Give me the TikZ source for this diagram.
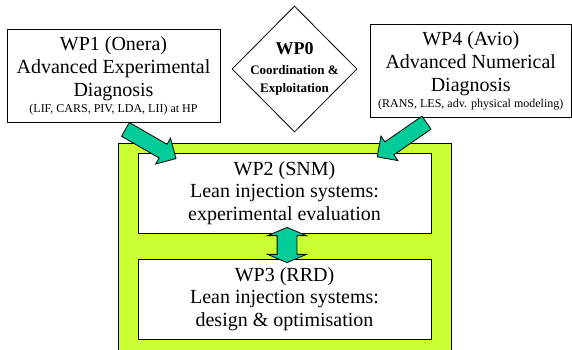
\documentclass[tikz,border=0pt]{standalone}
\usepackage{fontspec}
\setmainfont{Liberation Serif}
\usetikzlibrary{shapes.geometric,shapes.arrows,calc}

\definecolor{wplime}{HTML}{CCFF33}
\definecolor{wpteal}{HTML}{00CC99}

\begin{document}
\begin{tikzpicture}[x=1pt,y=-1pt,line width=0.8pt,
    wpbox/.style={draw,fill=white,align=center,inner sep=0pt,font=\fontsize{20}{23}\selectfont},
    flow/.style={single arrow,draw,fill=wpteal,inner xsep=0pt,inner ysep=7.5pt,single arrow head extend=7pt},
    link/.style={double arrow,draw,fill=wpteal,inner xsep=0pt,inner ysep=9.5pt,double arrow head extend=9.5pt,double arrow tip angle=134}]
  \useasboundingbox (0,0) rectangle (572,349);

  % frame round the two lean injection work packages
  \draw[fill=wplime] (118,143) rectangle (451,352);

  \node[wpbox,font=\fontsize{20}{22.5}\selectfont,minimum width=293pt,minimum height=80pt] (wp2) at (284.5,193)
    {WP2 (SNM)\\Lean injection systems:\\experimental evaluation};
  \node[wpbox,font=\fontsize{20}{22.5}\selectfont,minimum width=293pt,minimum height=80pt] (wp3) at (284.5,299)
    {WP3 (RRD)\\Lean injection systems:\\design \& optimisation};

  \node[wpbox,minimum width=213pt,minimum height=93pt] (wp1) at (113.5,75.5)
    {WP1 (Onera)\\Advanced Experimental\\Diagnosis\\[-7pt]{\fontsize{12}{14}\selectfont (LIF, CARS, PIV, LDA, LII) at HP}};
  \node[wpbox,minimum width=201.5pt,minimum height=93pt] (wp4) at (470.75,70.5)
    {WP4 (Avio)\\Advanced Numerical\\Diagnosis\\[-7pt]{\fontsize{12}{14}\selectfont (RANS, LES, adv. physical modeling)}};

  \node[diamond,draw,fill=white,align=center,inner sep=-6pt,minimum width=125pt,minimum height=126pt,
        font=\fontsize{13}{18}\selectfont\bfseries] (wp0) at (294.5,69)
    {{\fontsize{18}{18}\selectfont WP0}\\[2pt]Coordination \&\\Exploitation};

  % block arrows
  \coordinate (a1) at ([shift={(8.5,5)}]wp1.south);
  \coordinate (b1) at ([shift={(35,4)}]wp2.north west);
  \coordinate (a4) at ([shift={(-41,3)}]wp4.south);
  \coordinate (b4) at ([shift={(-51,2)}]wp2.north east);
  \coordinate (a2) at ([shift={(2.5,-6)}]wp2.south);
  \coordinate (a3) at ([shift={(2.5,4)}]wp3.north);

  \path let \p1=($(b1)-(a1)$), \n1={atan2(\y1,\x1)}, \n2={veclen(\x1,\y1)} in
    node[flow,minimum height=\n2,rotate=\n1] at ($(a1)!0.5!(b1)$) {};
  \path let \p1=($(b4)-(a4)$), \n1={atan2(\y1,\x1)}, \n2={veclen(\x1,\y1)} in
    node[flow,minimum height=\n2,rotate=\n1] at ($(a4)!0.5!(b4)$) {};
  \path let \p1=($(a3)-(a2)$), \n1={atan2(\y1,\x1)}, \n2={veclen(\x1,\y1)} in
    node[link,minimum height=\n2,rotate=\n1] at ($(a2)!0.5!(a3)$) {};
\end{tikzpicture}
\end{document}
